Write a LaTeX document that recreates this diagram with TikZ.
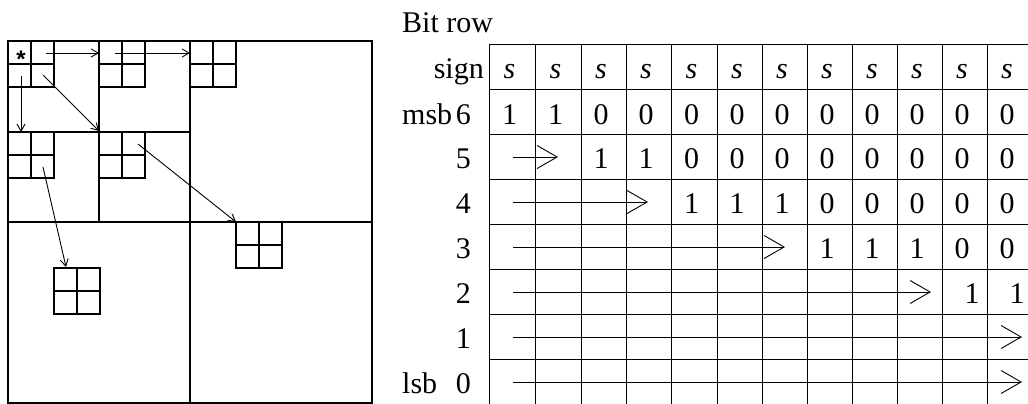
\documentclass[tikz,border=0pt]{standalone}
\usepackage{fontspec}
\setmainfont{Liberation Serif}
\newfontfamily\starfont{Liberation Sans}
\usetikzlibrary{arrows.meta}
\begin{document}
\begin{tikzpicture}[x=1pt,y=-1pt,
  bigline/.style={line width=1.4pt},
  smallgrid/.style={line width=1.1pt},
  tabline/.style={line width=0.9pt},
  qarrow/.style={line width=0.9pt,-{Straight Barb[length=7pt,width=8pt]}},
  barrow/.style={line width=0.9pt,-{Straight Barb[length=20pt,width=23pt]}},
  txt/.style={inner sep=0pt,font=\fontsize{30}{36}\selectfont},
]
\useasboundingbox (0,0) rectangle (1028,404);
\clip (0,0) rectangle (1028,404);
% ---------- left: quadtree ----------
\draw[bigline] (8,41) rectangle (372,403);
\draw[bigline] (190,41) -- (190,403);
\draw[bigline] (8,222) -- (372,222);
\draw[bigline] (99,41) -- (99,222);
\draw[bigline] (8,132) -- (190,132);
\foreach \gx/\gy in {8/41,99/41,190/41,8/132,99/132,236/222,54/268}{
  \draw[smallgrid] (\gx,\gy) rectangle ++(46,46);
  \draw[smallgrid] (\gx+23,\gy) -- ++(0,46);
  \draw[smallgrid] (\gx,\gy+23) -- ++(46,0);
}
\node[anchor=base,inner sep=0pt,font=\starfont\bfseries\fontsize{24}{28}\selectfont] (star) at (21,67) {*};
\coordinate (a1s) at (46,53);  \coordinate (a1e) at (99,53);
\coordinate (a2s) at (115,53); \coordinate (a2e) at (190,53);
\coordinate (a3s) at (21,76);  \coordinate (a3e) at (21,132);
\coordinate (a4s) at (43,75);  \coordinate (a4e) at (99,131);
\coordinate (a5s) at (138,144);\coordinate (a5e) at (236,222);
\coordinate (a6s) at (43,167); \coordinate (a6e) at (66,267);
\foreach \i in {1,...,6}{\draw[qarrow] (a\i s) -- (a\i e);}
% ---------- right: bit table ----------
\node[txt,anchor=base west] (title) at (402,33) {Bit row};
\foreach \y in {44,89,134,179,224,269,314,359}{\draw[tabline] (489,\y) -- (1035,\y);}
\foreach \x in {489,535,581,626,671,717,762,807,852,897,942,987}{\draw[tabline] (\x,44) -- (\x,406);}
% row labels
\node[txt,anchor=base east] (lsign) at (484,78) {sign};
\node[txt,anchor=base west] (lmsb) at (402,124) {msb};
\node[txt,anchor=base east] (l6) at (471,124) {6};
\node[txt,anchor=base east] (l5) at (471,168) {5};
\node[txt,anchor=base east] (l4) at (471,213) {4};
\node[txt,anchor=base east] (l3) at (471,258) {3};
\node[txt,anchor=base east] (l2) at (471,303) {2};
\node[txt,anchor=base east] (l1) at (471,348) {1};
\node[txt,anchor=base west] (llsb) at (402,393) {lsb};
\node[txt,anchor=base east] (l0) at (471,393) {0};
% sign row
\foreach \c [count=\k] in {509.5,555.5,601,646,691.5,737,782,827,872,917,962,1007}{
  \node[txt,anchor=base] (s\k) at (\c,78) {\textit{s}};}
% msb 6
\foreach \c/\v [count=\k] in {509.5/1,555.5/1,601/0,646/0,691.5/0,737/0,782/0,827/0,872/0,917/0,962/0,1007/0}{
  \node[txt,anchor=base] (b6c\k) at (\c,124) {\v};}
% 5
\foreach \c/\v [count=\k] in {601/1,646/1,691.5/0,737/0,782/0,827/0,872/0,917/0,962/0,1007/0}{
  \node[txt,anchor=base] (b5c\k) at (\c,168) {\v};}
% 4
\foreach \c/\v [count=\k] in {691.5/1,737/1,782/1,827/0,872/0,917/0,962/0,1007/0}{
  \node[txt,anchor=base] (b4c\k) at (\c,213) {\v};}
% 3
\foreach \c/\v [count=\k] in {827/1,872/1,917/1,962/0,1007/0}{
  \node[txt,anchor=base] (b3c\k) at (\c,258) {\v};}
% 2
\node[txt,anchor=base] (b2c1) at (972,303) {1};
\node[txt,anchor=base] (b2c2) at (1017,303) {1};
% row arrows
\coordinate (r5s) at (513,157); \coordinate (r5e) at (558,157);
\coordinate (r4s) at (513,202); \coordinate (r4e) at (648,202);
\coordinate (r3s) at (513,247); \coordinate (r3e) at (785,247);
\coordinate (r2s) at (513,292); \coordinate (r2e) at (931,292);
\coordinate (r1s) at (513,337); \coordinate (r1e) at (1022,337);
\coordinate (r0s) at (513,382); \coordinate (r0e) at (1022,382);
\foreach \r in {5,4,3,2,1,0}{\draw[barrow] (r\r s) -- (r\r e);}
\end{tikzpicture}
\end{document}
